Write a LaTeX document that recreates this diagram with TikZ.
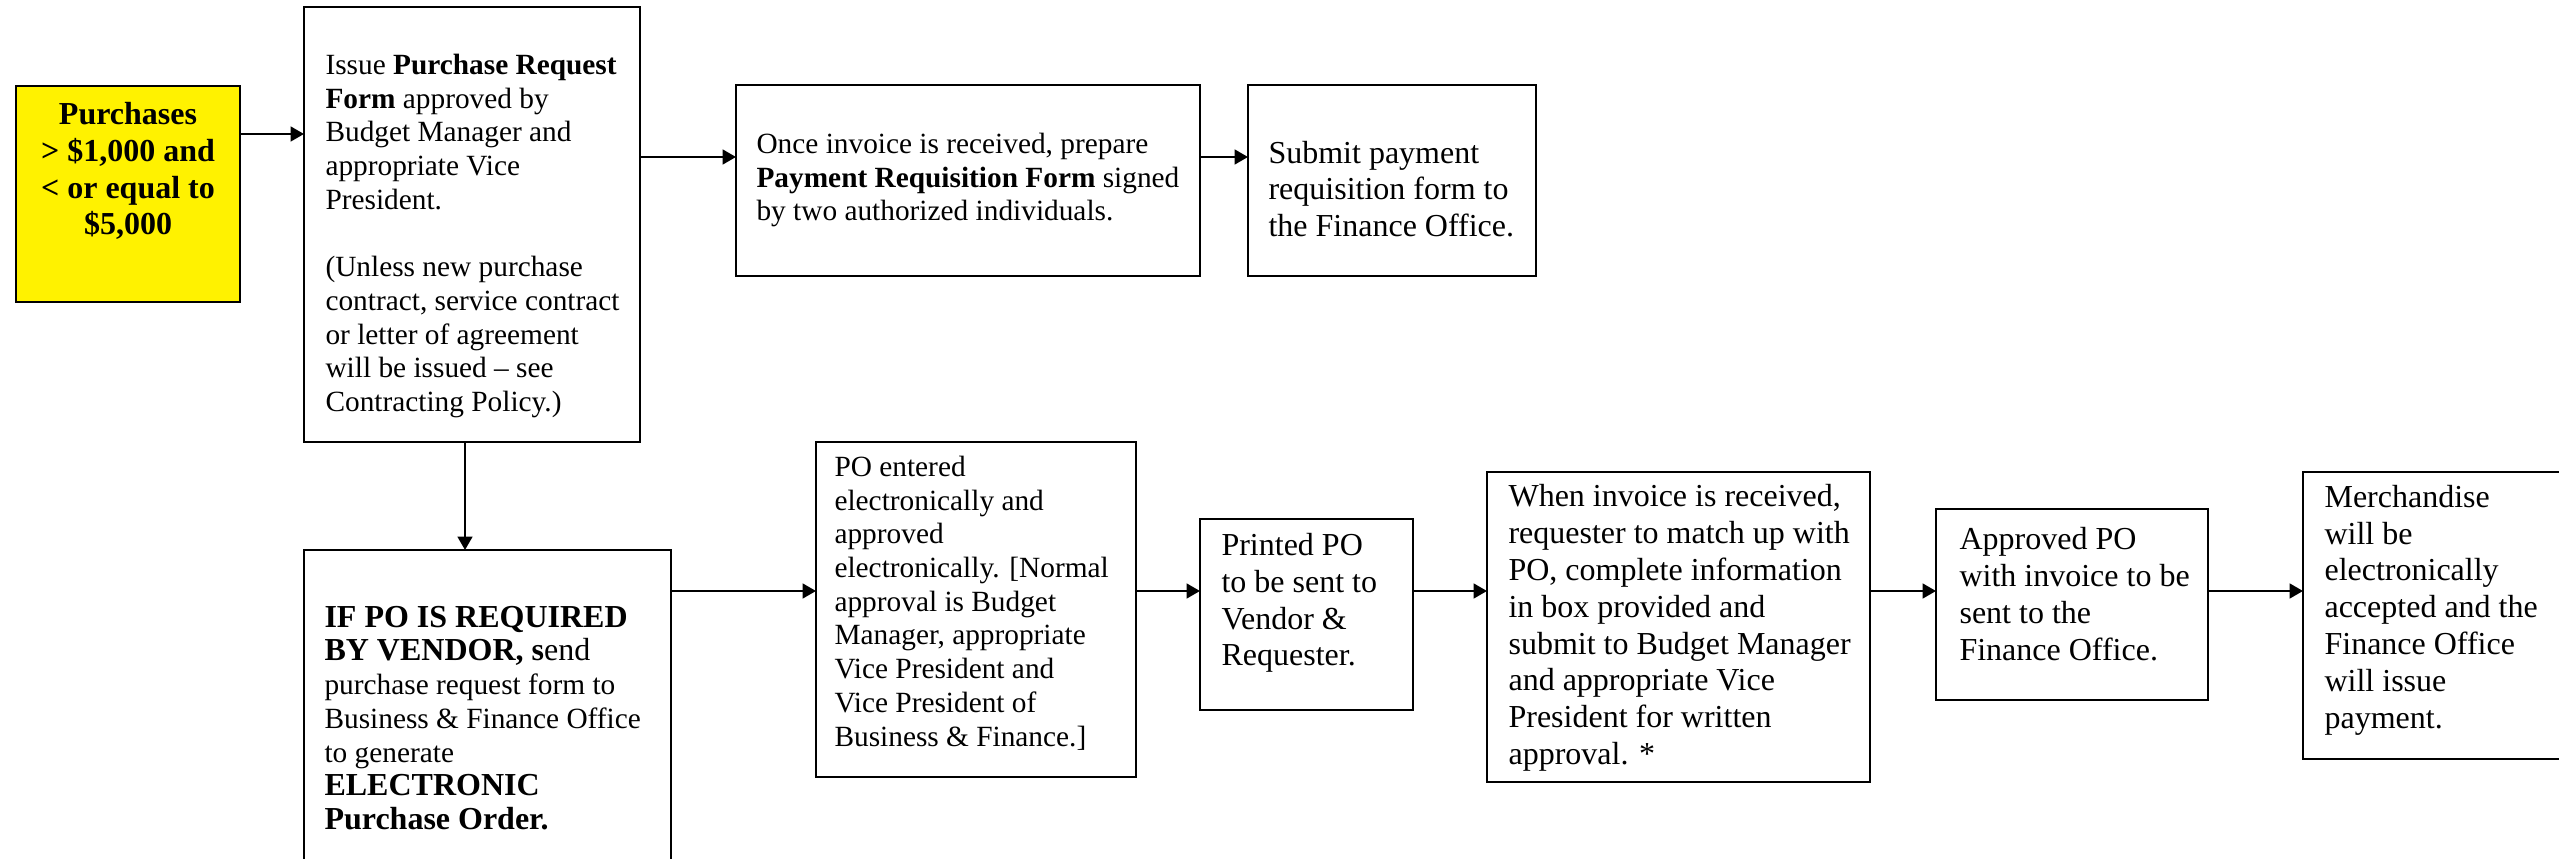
\documentclass[tikz,border=0pt]{standalone}
\usepackage{fontspec}
\setmainfont{Liberation Serif}
\usetikzlibrary{arrows.meta}
\newcommand\fsA{\fontsize{11pt}{12.65pt}\selectfont}
\newcommand\fsB{\fontsize{12pt}{13.8pt}\selectfont}
\newcommand\bx[6][]{\node[flowbox,#1, anchor=north west, minimum width={(#5-#3)*0.375pt}, minimum height={(#6-#4)*0.375pt}] (#2) at (#3,#4) {};}
\tikzset{
  flowbox/.style={draw, line width=0.9pt, inner sep=0pt, outer sep=0pt},
  txtA/.style={font=\fsA, align=left, inner sep=0pt, anchor=west},
  txtB/.style={font=\fsB, align=left, inner sep=0pt, anchor=west},
  arr/.style={line width=0.9pt, -{Triangle[length=5pt,width=5.5pt]}},
}
\begin{document}
\begin{tikzpicture}[x=0.375pt,y=-0.375pt]
\clip (0,0) rectangle (2559,859);
\fill[white] (0,0) rectangle (2559,859);
% boxes
\bx[fill=yellow, line width=1.1pt]{yel}{16}{86}{240}{302}
\bx{prf}{304}{7}{640}{442}
\bx{pay}{736}{85}{1200}{276}
\bx{sub}{1248}{85}{1536}{276}
\bx{ifpo}{304}{550}{671}{900}
\bx{poe}{816}{442}{1136}{777}
\bx{prt}{1200}{519}{1413}{710}
\bx{when}{1487}{472}{1870}{782}
\bx{appr}{1936}{509}{2208}{700}
\bx{merch}{2303}{472}{2600}{759}
% texts
\node[font=\fsB\bfseries, align=center, inner sep=0pt] (yelt) at (128,171)
  {Purchases\\> \$1,000 and\\< or equal to\\\$5,000};
\node[txtA] (prft) at (325,236)
  {Issue \textbf{Purchase Request}\\\textbf{Form} approved by\\Budget Manager and\\appropriate Vice\\President.\\[12.65pt](Unless new purchase\\contract, service contract\\or letter of agreement\\will be issued -- see\\Contracting Policy.)};
\node[txtA] (payt) at (756,180)
  {Once invoice is received, prepare\\\textbf{Payment Requisition Form} signed\\by two authorized individuals.};
\node[txtB] (subt) at (1268,189)
  {Submit payment\\requisition form to\\the Finance Office.};
\node[txtA] (ifpot) at (324,718)
  {{\fsB\bfseries IF PO IS REQUIRED}\\{\fsB\bfseries BY VENDOR, s}{\fsB end}\\purchase request form to\\Business \& Finance Office\\to generate\\{\fsB\bfseries ELECTRONIC}\\{\fsB\bfseries Purchase Order.}};
\node[txtA] (poet) at (834,603)
  {PO entered\\electronically and\\approved\\electronically. [Normal\\approval is Budget\\Manager, appropriate\\Vice President and\\Vice President of\\Business \& Finance.]};
\node[txtB] (prtt) at (1221,603)
  {Printed PO\\to be sent to\\Vendor \&\\Requester.};
\node[txtB] (whent) at (1508,628)
  {When invoice is received,\\requester to match up with\\PO, complete information\\in box provided and\\submit to Budget Manager\\and appropriate Vice\\President for written\\approval. *};
\node[txtB] (apprt) at (1959,594)
  {Approved PO\\with invoice to be\\sent to the\\Finance Office.};
\node[txtB] (mercht) at (2324,610)
  {Merchandise\\will be\\electronically\\accepted and the\\Finance Office\\will issue\\payment.};
% guide coordinates
\coordinate (r0) at (0,134);
\coordinate (r1) at (0,157);
\coordinate (r2) at (0,591);
\coordinate (c1) at (465,0);
% connectors
\draw[arr] (yel.east |- r0) -- (prf.west |- r0);
\draw[arr] (prf.east |- r1) -- (pay.west |- r1);
\draw[arr] (pay.east |- r1) -- (sub.west |- r1);
\draw[arr] (prf.south -| c1) -- (ifpo.north -| c1);
\draw[arr] (ifpo.east |- r2) -- (poe.west |- r2);
\draw[arr] (poe.east |- r2) -- (prt.west |- r2);
\draw[arr] (prt.east |- r2) -- (when.west |- r2);
\draw[arr] (when.east |- r2) -- (appr.west |- r2);
\draw[arr] (appr.east |- r2) -- (merch.west |- r2);
\end{tikzpicture}
\end{document}
